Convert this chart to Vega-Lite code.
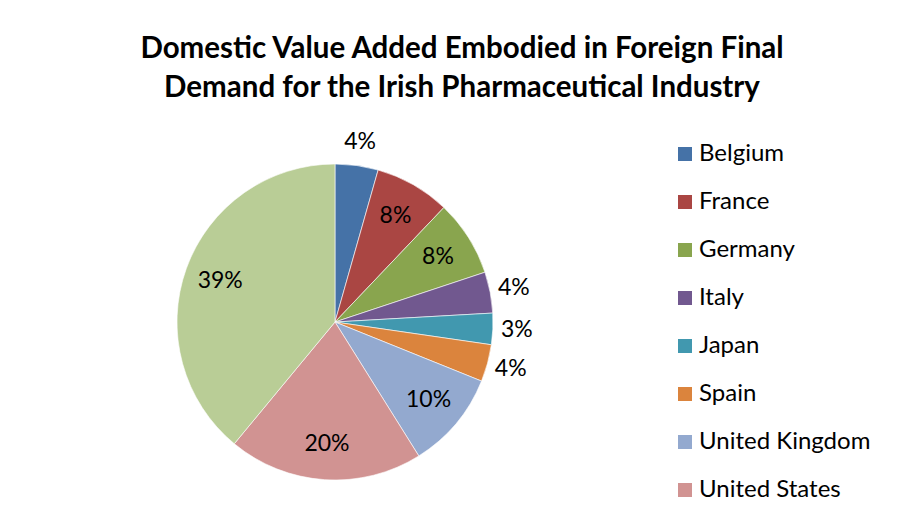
{
  "$schema": "https://vega.github.io/schema/vega-lite/v6.json",
  "autosize": {"type": "none"},
  "width": 316,
  "height": 316,
  "padding": {"left": 177, "top": 164, "right": 410, "bottom": 48},
  "background": "#ffffff",
  "config": {"view": {"stroke": null}, "font": "Lato"},
  "title": {
    "text": ["Domestic Value Added Embodied in Foreign Final", "Demand for the Irish Pharmaceutical Industry"],
    "font": "Lato",
    "fontSize": 29.5,
    "fontWeight": "bold",
    "color": "#000000",
    "anchor": "middle",
    "dx": 127,
    "offset": 27,
    "lineHeight": 39
  },
  "data": {
    "values": [
      {"country": "Belgium", "share": 0.044},
      {"country": "France", "share": 0.077},
      {"country": "Germany", "share": 0.078},
      {"country": "Italy", "share": 0.042},
      {"country": "Japan", "share": 0.032},
      {"country": "Spain", "share": 0.038},
      {"country": "United Kingdom", "share": 0.100},
      {"country": "United States", "share": 0.199},
      {"country": "Rest of the World", "share": 0.390}
    ]
  },
  "transform": [{"window": [{"op": "row_number", "as": "idx"}]}],
  "encoding": {
    "theta": {"field": "share", "type": "quantitative", "stack": true},
    "order": {"field": "idx", "type": "quantitative"}
  },
  "layer": [
    {
      "mark": {"type": "arc", "stroke": "#ffffff", "strokeWidth": 0.6},
      "encoding": {
        "color": {
          "field": "country",
          "type": "nominal",
          "sort": null,
          "scale": {
            "domain": ["Belgium", "France", "Germany", "Italy", "Japan", "Spain", "United Kingdom", "United States", "Rest of the World"],
            "range": ["#4572A7", "#AA4643", "#89A54E", "#71588F", "#4198AF", "#DB843D", "#93A9CF", "#D19392", "#B9CD96"]
          },
          "legend": {
            "title": null,
            "orient": "none",
            "legendX": 496,
            "legendY": -22,
            "values": ["Belgium", "France", "Germany", "Italy", "Japan", "Spain", "United Kingdom", "United States"],
            "symbolType": "square",
            "symbolSize": 196,
            "symbolStrokeWidth": 0,
            "labelFont": "Lato",
            "labelFontSize": 24,
            "labelColor": "#000000",
            "labelOffset": 2,
            "rowPadding": 24,
            "labelLimit": 300
          }
        }
      }
    },
    {
      "mark": {"type": "text", "font": "Lato", "fontSize": 23, "color": "#000000", "radius": 122},
      "encoding": {
        "opacity": {"condition": {"test": "datum.share >= 0.05", "value": 1}, "value": 0},
        "text": {"field": "share", "type": "quantitative", "format": ".0%"}
      }
    },
    {
      "mark": {"type": "text", "font": "Lato", "fontSize": 23, "color": "#000000", "radius": 182},
      "encoding": {
        "opacity": {"condition": {"test": "datum.share < 0.05", "value": 1}, "value": 0},
        "text": {"field": "share", "type": "quantitative", "format": ".0%"}
      }
    }
  ]
}
